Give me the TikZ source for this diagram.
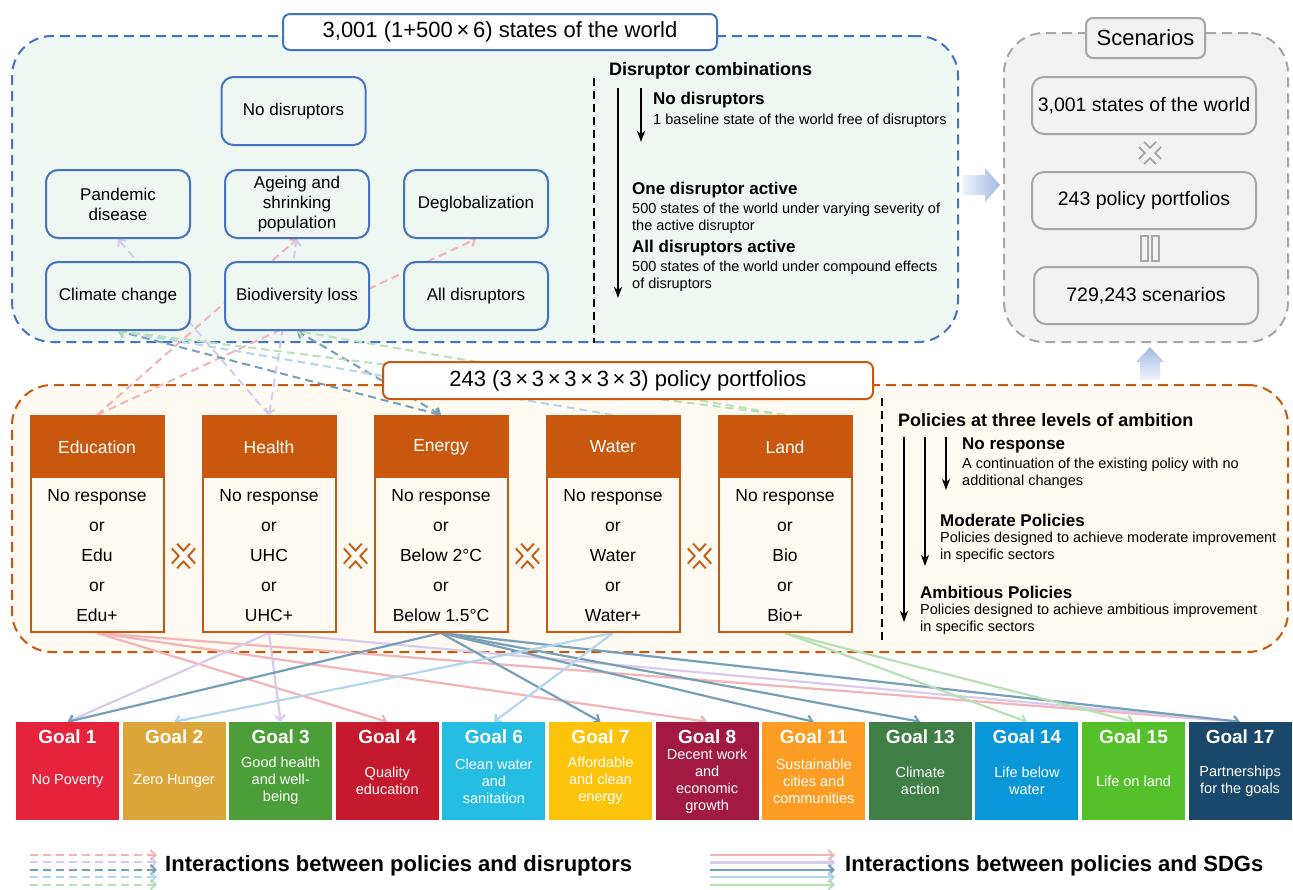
\documentclass[tikz,border=0pt]{standalone}
\usepackage{fontspec}
\setmainfont{Liberation Sans}
\usetikzlibrary{arrows.meta}
\pgfdeclarelayer{bg}
\pgfdeclarelayer{mid}
\pgfsetlayers{bg,mid,main}
\definecolor{cblue}{HTML}{4472C4}
\definecolor{cmint}{HTML}{EEF7F2}
\definecolor{cgray}{HTML}{A6A6A6}
\definecolor{cgrayfill}{HTML}{F2F2F2}
\definecolor{corange}{HTML}{C9580E}
\definecolor{ccream}{HTML}{FFFBF2}
\definecolor{lpink}{HTML}{F4B4B6}
\definecolor{llav}{HTML}{D9CBEE}
\definecolor{lsteel}{HTML}{76A0B8}
\definecolor{llblue}{HTML}{B4D6EC}
\definecolor{lgreen}{HTML}{B6E1B4}
\definecolor{arrlight}{HTML}{F0F4FB}
\definecolor{arrdark}{HTML}{A3BAE4}
\definecolor{sdgA}{HTML}{E5243B}
\definecolor{sdgB}{HTML}{DDA63A}
\definecolor{sdgC}{HTML}{4C9F38}
\definecolor{sdgD}{HTML}{C5192D}
\definecolor{sdgF}{HTML}{26BDE2}
\definecolor{sdgG}{HTML}{FCC30B}
\definecolor{sdgH}{HTML}{A21942}
\definecolor{sdgK}{HTML}{FD9D24}
\definecolor{sdgM}{HTML}{3F7E44}
\definecolor{sdgN}{HTML}{0A97D9}
\definecolor{sdgO}{HTML}{56C02B}
\definecolor{sdgQ}{HTML}{19486A}
\newcommand{\myfs}[2]{\fontsize{#1}{#2}\selectfont}
\newcommand{\oxcross}[6]{%
  \draw[#5, line width=9pt] ({#1-#3},{#2-#4}) -- ({#1+#3},{#2+#4}) ({#1-#3},{#2+#4}) -- ({#1+#3},{#2-#4});
  \draw[#6, line width=5pt] ({#1-#3},{#2-#4}) -- ({#1+#3},{#2+#4}) ({#1-#3},{#2+#4}) -- ({#1+#3},{#2-#4});}
\begin{document}
\begin{tikzpicture}[x=1pt,y=-1pt,
  container/.style={line width=2pt, dash pattern=on 10pt off 6pt, rounded corners=40pt, inner sep=0pt},
  dbox/.style={draw=cblue, fill=cmint, line width=2pt, rounded corners=12pt, minimum width=144pt, minimum height=68pt, align=center, font=\myfs{17}{20}, inner sep=0pt},
  sbox/.style={draw=cgray, fill=cgrayfill, line width=2pt, rounded corners=12pt, minimum width=224pt, minimum height=57pt, font=\myfs{19.5}{22}, inner sep=0pt},
  tbox/.style={fill=white, line width=2pt, rounded corners=7pt, inner sep=0pt, font=\myfs{22}{24}},
  pol/.style={draw=corange, fill=ccream, line width=2pt, minimum width=133pt, minimum height=216pt, inner sep=0pt},
  polh/.style={fill=corange, minimum width=133pt, minimum height=62pt, text=white, font=\myfs{17.5}{20}, inner sep=0pt},
  polt/.style={align=center, font=\myfs{17.5}{30}, inner sep=0pt},
  goalbox/.style={minimum width=103pt, minimum height=98pt, inner sep=0pt},
  gtitle/.style={text=white, font=\bfseries\myfs{19}{22}, inner sep=0pt},
  gsub/.style={text=white, align=center, font=\myfs{14.5}{17}, inner sep=0pt},
  dcon/.style={line width=2pt, dash pattern=on 8pt off 5pt, -{Straight Barb[length=5pt,width=10pt]}},
  dcontwo/.style={line width=2pt, dash pattern=on 8pt off 5pt, {Straight Barb[length=5pt,width=10pt]}-{Straight Barb[length=5pt,width=10pt]}},
  scon/.style={line width=2.2pt, -{Straight Barb[length=5pt,width=10pt]}},
  blk/.style={line width=1.5pt, -{Stealth[length=11pt,width=8pt,inset=3pt]}},
  vdash/.style={line width=2pt, dash pattern=on 8pt off 5pt},
  hd/.style={anchor=west, inner sep=0pt, font=\bfseries\myfs{18}{21}},
  sh/.style={anchor=west, inner sep=0pt, font=\bfseries\myfs{17}{20}},
  ds/.style={anchor=west, inner sep=0pt, align=left, font=\myfs{14.5}{17}},
  leg/.style={anchor=west, inner sep=0pt, font=\bfseries\myfs{22}{24}}
]
\useasboundingbox (0,0) rectangle (1293,889);
\begin{pgfonlayer}{bg}
\fill[white] (0,0) rectangle (1293,889);
\node[container, draw=cblue, fill=cmint, minimum width=946pt, minimum height=306pt] (topc) at (485,189) {};
\node[container, draw=cgray, fill=cgrayfill, minimum width=284pt, minimum height=309pt] (scc) at (1146,187.5) {};
\node[container, draw=corange, fill=ccream, minimum width=1276pt, minimum height=267pt] (polc) at (650,518.5) {};
\end{pgfonlayer}

% titles
\node[tbox, draw=cblue, minimum width=434pt, minimum height=36pt] (t1) at (500,32) {3,001 (1+500\,×\,6) states of the world};
\node[tbox, draw=corange, minimum width=490pt, minimum height=37pt] (t2) at (628,380.5) {243 (3\,×\,3\,×\,3\,×\,3\,×\,3) policy portfolios};
\node[tbox, draw=cgray, fill=cgrayfill, minimum width=119pt, minimum height=40pt] (t3) at (1145.5,38) {Scenarios};

% disruptors
\node[dbox] (nodis) at (293.5,111) {No disruptors};
\node[dbox] (pand) at (118,204) {Pandemic\\disease};
\node[dbox] (ageing) at (297,204) {Ageing and\\shrinking\\population};
\node[dbox] (deglob) at (476,204) {Deglobalization};
\node[dbox] (climate) at (118,296) {Climate change};
\node[dbox] (biodiv) at (297,296) {Biodiversity loss};
\node[dbox] (alldis) at (476,296) {All disruptors};

% disruptor combinations text
\draw[vdash] (594,78) -- (594,343);
\node[hd] (dch) at (609,71) {Disruptor combinations};
\coordinate (da1) at (618,88); \coordinate (da1e) at (618,298);
\coordinate (da2) at (641,88); \coordinate (da2e) at (641,142);
\draw[blk] (da1) -- (da1e);
\draw[blk] (da2) -- (da2e);
\node[sh] (dnd) at (653,100) {No disruptors};
\node[ds] (dndt) at (653,121) {1 baseline state of the world free of disruptors};
\node[sh] (doa) at (632,190) {One disruptor active};
\node[ds] (doat) at (632,218.5) {500 states of the world under varying severity of\\the active disruptor};
\node[sh] (dad) at (632,248) {All disruptors active};
\node[ds] (dadt) at (632,276.5) {500 states of the world under compound effects\\of disruptors};

% scenarios
\node[sbox] (sc1) at (1144,105.5) {3,001 states of the world};
\node[sbox] (sc2) at (1144,200.5) {243 policy portfolios};
\node[sbox] (sc3) at (1146,295.5) {729,243 scenarios};
\oxcross{1150}{153}{8.5}{8.5}{cgray}{cgrayfill}
\draw[cgray, line width=2pt] (1141,236) rectangle (1148,261) (1152,236) rectangle (1159,261);
\shade[left color=arrlight, right color=arrdark] (962,175) -- (985,175) -- (985,168) -- (1000,185) -- (985,202) -- (985,195) -- (962,195) -- cycle;
\shade[bottom color=arrlight, top color=arrdark] (1140,380) -- (1140,362) -- (1136,362) -- (1150,347) -- (1164,362) -- (1160,362) -- (1160,380) -- cycle;

% policies
\foreach \px/\pn/\ph/\pt in {97/edu/Education/{No response\\or\\Edu\\or\\Edu+},
  269/health/Health/{No response\\or\\UHC\\or\\UHC+},
  441/energy/Energy/{No response\\or\\Below 2°C\\or\\Below 1.5°C},
  613/water/Water/{No response\\or\\Water\\or\\Water+},
  785/land/Land/{No response\\or\\Bio\\or\\Bio+}}{
  \node[pol] (\pn) at (\px,524) {};
  \node[polh] (\pn-h) at (\px,447) {\ph};
  \node[polt] (\pn-t) at (\px,556) {\pt};
}
\foreach \cx in {183.5,355.5,527.5,699.5}{\oxcross{\cx}{556}{9}{10}{corange}{ccream}}

% policy levels text
\draw[vdash] (882,398) -- (882,643);
\node[hd] (pth) at (898,420) {Policies at three levels of ambition};
\coordinate (pa1) at (904,437); \coordinate (pa1e) at (904,622);
\coordinate (pa2) at (925,437); \coordinate (pa2e) at (925,566);
\coordinate (pa3) at (946,437); \coordinate (pa3e) at (946,490);
\draw[blk] (pa1) -- (pa1e);
\draw[blk] (pa2) -- (pa2e);
\draw[blk] (pa3) -- (pa3e);
\node[sh] (pnr) at (962,445) {No response};
\node[ds] (pnrt) at (962,473.5) {A continuation of the existing policy with no\\additional changes};
\node[sh] (pmp) at (940,520) {Moderate Policies};
\node[ds] (pmpt) at (940,547.5) {Policies designed to achieve moderate improvement\\in specific sectors};
\node[sh] (pap) at (920,592) {Ambitious Policies};
\node[ds] (papt) at (920,619.5) {Policies designed to achieve ambitious improvement\\in specific sectors};

% goals
\foreach \i/\nm/\gc/\gt/\gsb in {0/g1/sdgA/Goal 1/{No Poverty},
  1/g2/sdgB/Goal 2/{Zero Hunger},
  2/g3/sdgC/Goal 3/{Good health\\and well-\\being},
  3/g4/sdgD/Goal 4/{Quality\\education},
  4/g6/sdgF/Goal 6/{Clean water\\and\\sanitation},
  5/g7/sdgG/Goal 7/{Affordable\\and clean\\energy},
  6/g8/sdgH/Goal 8/{Decent work\\and\\economic\\growth},
  7/g11/sdgK/Goal 11/{Sustainable\\cities and\\communities},
  8/g13/sdgM/Goal 13/{Climate\\action},
  9/g14/sdgN/Goal 14/{Life below\\water},
  10/g15/sdgO/Goal 15/{Life on land},
  11/g17/sdgQ/Goal 17/{Partnerships\\for the goals}}{
  \node[goalbox, fill=\gc] (\nm) at ({67.5+106.6*\i},771) {};
  \node[gtitle] (\nm-t) at ({67.5+106.6*\i},737) {\gt};
  \node[gsub] (\nm-s) at ({67.5+106.6*\i},781) {\gsb};
}

% connectors
\begin{pgfonlayer}{mid}
\draw[dcon, lpink] (edu.north) -- (ageing.south);
\draw[dcon, lpink] (edu.north) -- (deglob.south);
\draw[dcon, llav] (health.north) -- (pand.south);
\draw[dcontwo, llav] (health.north) -- (ageing.south);
\draw[dcontwo, lsteel] (energy.north) -- (climate.south);
\draw[dcontwo, lsteel] (energy.north) -- (biodiv.south);
\draw[dcon, llblue] (water.north) -- (climate.south);
\draw[dcon, lgreen] (land.north) -- (climate.south);
\draw[dcon, lgreen] (land.north) -- (biodiv.south);
\draw[scon, lpink] (edu.south) -- (g4.north);
\draw[scon, lpink] (edu.south) -- (g8.north);
\draw[scon, lpink] (edu.south) -- (g17.north);
\draw[scon, llav] (health.south) -- (g1.north);
\draw[scon, llav] (health.south) -- (g3.north);
\draw[scon, llav] (health.south) -- (g17.north);
\draw[scon, lsteel] (energy.south) -- (g1.north);
\draw[scon, lsteel] (energy.south) -- (g7.north);
\draw[scon, lsteel] (energy.south) -- (g11.north);
\draw[scon, lsteel] (energy.south) -- (g13.north);
\draw[scon, lsteel] (energy.south) -- (g17.north);
\draw[scon, llblue] (water.south) -- (g2.north);
\draw[scon, llblue] (water.south) -- (g6.north);
\draw[scon, lgreen] (land.south) -- (g14.north);
\draw[scon, lgreen] (land.south) -- (g15.north);
\end{pgfonlayer}

% legend
\foreach \k/\c in {0/lpink,1/llav,2/lsteel,3/llblue,4/lgreen}{
  \coordinate (la\k) at (30,{855+7.4*\k}); \coordinate (lb\k) at (157,{855+7.4*\k});
  \draw[dcon, \c] (la\k) -- (lb\k);
  \coordinate (lc\k) at (710,{855+7.4*\k}); \coordinate (ld\k) at (835,{855+7.4*\k});
  \draw[scon, \c] (lc\k) -- (ld\k);
}
\node[leg] (leg1) at (165,866) {Interactions between policies and disruptors};
\node[leg] (leg2) at (845,866) {Interactions between policies and SDGs};
\end{tikzpicture}
\end{document}
